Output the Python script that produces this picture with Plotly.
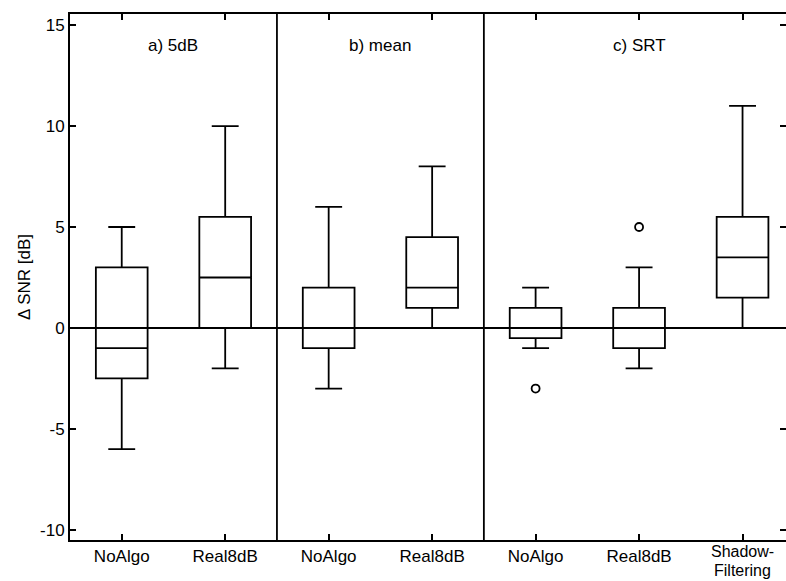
import plotly.graph_objects as go

positions = [1, 2, 3, 4, 5, 6, 7]
tick_labels = ["NoAlgo", "Real8dB", "NoAlgo", "Real8dB", "NoAlgo", "Real8dB", ""]
last_label_lines = ["Shadow-", "Filtering"]
y_ticks = [-10, -5, 0, 5, 10, 15]
y_tick_labels = ["-10", "-5", "0", "5", "10", "15"]
y_title = "Δ SNR [dB]"
lower_whisker = [-6, -2, -3, 0, -1, -2, 0]
q1 = [-2.5, 0, -1, 1, -0.5, -1, 1.5]
median = [-1, 2.5, 0, 2, 0, 0, 3.5]
q3 = [3, 5.5, 2, 4.5, 1, 1, 5.5]
upper_whisker = [5, 10, 6, 8, 2, 3, 11]
outlier_x = [5, 6]
outlier_y = [-3, 5]
panel_labels = ["a) 5dB", "b) mean", "c) SRT"]
panel_x = [1.5, 3.5, 6]
separators = [2.5, 4.5]

FONT = "Liberation Sans, Arial"

fig = go.Figure()
fig.add_trace(go.Box(
    x=positions, q1=q1, median=median, q3=q3,
    lowerfence=lower_whisker, upperfence=upper_whisker,
    width=0.5, whiskerwidth=0.52,
    line=dict(color="black", width=1.8),
    fillcolor="rgba(0,0,0,0)",
    boxpoints=False, showlegend=False, hoverinfo="skip",
))
fig.add_trace(go.Scatter(
    x=outlier_x, y=outlier_y, mode="markers",
    marker=dict(symbol="circle-open", size=8, color="black", line=dict(width=1.8)),
    showlegend=False,
))

shapes = [dict(type="line", xref="paper", yref="y", x0=0, x1=1, y0=0, y1=0,
               line=dict(color="black", width=2))]
for s in separators:
    shapes.append(dict(type="line", xref="x", yref="paper", x0=s, x1=s, y0=0, y1=1,
                       line=dict(color="black", width=1.8)))

annotations = [dict(x=px, y=14.0, xref="x", yref="y", text=t, showarrow=False,
                    font=dict(family=FONT, size=17, color="black"))
               for px, t in zip(panel_x, panel_labels)]
for i, line in enumerate(last_label_lines):
    annotations.append(dict(x=positions[-1], y=0, xref="x", yref="paper", text=line,
                            showarrow=False, yanchor="top", xanchor="center",
                            yshift=-2 - 19 * i, borderpad=0,
                            font=dict(family=FONT, size=16, color="black")))
annotations.append(dict(x=0, y=0.5, xref="paper", yref="paper", text=y_title,
                        showarrow=False, textangle=-90, xanchor="center", yanchor="middle",
                        xshift=-46, font=dict(family=FONT, size=17, color="black")))

fig.update_layout(
    width=786, height=581,
    margin=dict(l=70, r=0, t=14, b=41),
    paper_bgcolor="white", plot_bgcolor="white",
    font=dict(family=FONT, size=17, color="black"),
    shapes=shapes, annotations=annotations,
    xaxis=dict(range=[0.5, 7.42], tickvals=positions, ticktext=tick_labels,
               ticks="inside", ticklen=6, tickwidth=1.5, tickcolor="black",
               showline=True, linecolor="black", linewidth=2, mirror="ticks",
               showgrid=False, zeroline=False, tickfont=dict(size=17),
               automargin=False),
    yaxis=dict(range=[-10.5, 15.55], tickvals=y_ticks, ticktext=y_tick_labels,
               ticks="inside", ticklen=6, tickwidth=1.5, tickcolor="black",
               showline=True, linecolor="black", linewidth=2, mirror="ticks",
               showgrid=False, zeroline=False, tickfont=dict(size=17),
               automargin=False),
)

fig.write_html("out.html")
